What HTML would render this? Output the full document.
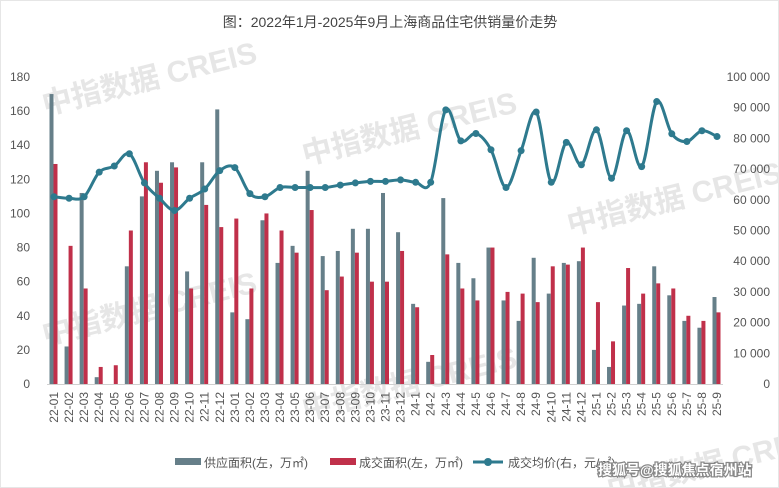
<!DOCTYPE html>
<html><head><meta charset="utf-8">
<style>
html,body{margin:0;padding:0;background:#fff;}
body{width:779px;height:488px;overflow:hidden;font-family:"Liberation Sans","Noto Sans CJK SC",sans-serif;}
</style></head><body>
<svg id="s" width="779" height="488" xmlns="http://www.w3.org/2000/svg" style="position:absolute;left:0;top:0;font-family:'Liberation Sans','Noto Sans CJK SC',sans-serif">
<rect x="0.5" y="0.5" width="778" height="487" fill="#fff" stroke="#e6e6e6"/>
<g fill="#e6e6e6" font-weight="bold" font-size="30">
<text transform="translate(45,115) rotate(-14)">中指数据 CREIS</text>
<text transform="translate(305,165) rotate(-14)">中指数据 CREIS</text>
<text transform="translate(570,235) rotate(-14)">中指数据 CREIS</text>
<text transform="translate(45,345) rotate(-14)">中指数据 CREIS</text>
<text transform="translate(305,420) rotate(-14)">中指数据 CREIS</text>
<text transform="translate(610,500) rotate(-14)">中指数据 CREIS</text>
</g>
<text x="390" y="27" text-anchor="middle" font-size="14" fill="#444">图：2022年1月-2025年9月上海商品住宅供销量价走势</text>
<g id="g"></g>
<g font-size="12" fill="#555">
<rect x="175" y="458" width="26" height="7" fill="#667f89"/>
<text x="204" y="467">供应面积(左，万㎡)</text>
<rect x="330" y="458" width="26" height="7" fill="#c0304a"/>
<text x="359" y="467">成交面积(左，万㎡)</text>
<line x1="473" y1="462" x2="503" y2="462" stroke="#2e7a8e" stroke-width="3"/>
<circle cx="488" cy="462" r="4" fill="#2e7a8e"/>
<text x="508" y="467">成交均价(右，元/㎡)</text>
</g>
<text x="598" y="475" font-size="14" font-weight="bold" fill="#fff" stroke="#888" stroke-width="2.5" paint-order="stroke">搜狐号@搜狐焦点宿州站</text>
</svg>
<script>
(function(){
var L=["22-01","22-02","22-03","22-04","22-05","22-06","22-07","22-08","22-09","22-10","22-11","22-12","23-01","23-02","23-03","23-04","23-05","23-06","23-07","23-08","23-09","23-10","23-11","23-12","24-1","24-2","24-3","24-4","24-5","24-6","24-7","24-8","24-9","24-10","24-11","24-12","25-1","25-2","25-3","25-4","25-5","25-6","25-7","25-8","25-9"];
var S=[170,22,112,4,0,69,110,125,130,66,130,161,42,38,96,71,81,125,75,78,91,91,112,89,47,13,109,71,62,80,49,37,74,53,71,72,20,10,46,47,69,52,37,33,51];
var D=[129,81,56,10,11,90,130,118,127,56,105,92,97,56,100,90,77,102,55,63,77,60,60,78,45,17,76,56,49,80,54,53,48,69,70,80,48,25,68,53,59,56,40,37,42];
var P=[61000,60500,61000,69000,71000,75000,65500,60500,56500,60500,63500,69500,70500,62000,61000,64000,64000,64000,64000,64800,65500,66000,66000,66500,65700,65700,89300,79200,81600,76300,64000,76000,88600,65700,78700,71400,82800,67000,82500,70800,92000,81500,79000,82500,80600];
var x0=54,dx=(717-54)/44,base=384,yTop=77,h=base-yTop;
var o='';
function yl(v){return base-v/180*h;}function yr(v){return base-v/100000*h;}
for(var v=0;v<=180;v+=20)o+='<text x="30" y="'+(yl(v)+4)+'" text-anchor="end" font-size="12" fill="#555">'+v+'</text>';
for(var v=0;v<=100000;v+=10000)o+='<text x="770" y="'+(yr(v)+4)+'" text-anchor="end" font-size="12" fill="#555">'+(v?String(v).replace(/(\d{3})$/,' $1'):'0')+'</text>';
o+='<line x1="47" y1="384.5" x2="723" y2="384.5" stroke="#d0d0d0"/>';
var pts=[];
for(var i=0;i<45;i++){var c=x0+i*dx;
o+='<rect x="'+(c-4.5)+'" y="'+yl(S[i])+'" width="4" height="'+(S[i]/180*h)+'" fill="#667f89"/>';
o+='<rect x="'+(c-0.5)+'" y="'+yl(D[i])+'" width="4" height="'+(D[i]/180*h)+'" fill="#c0304a"/>';
o+='<text transform="translate('+(c+4)+',392) rotate(-90)" text-anchor="end" font-size="12" fill="#555">'+L[i]+'</text>';
pts.push([c,yr(P[i])]);}
var d='M'+pts[0][0]+','+pts[0][1];
for(var i=0;i<44;i++){var p0=pts[Math.max(0,i-1)],p1=pts[i],p2=pts[i+1],p3=pts[Math.min(44,i+2)];
d+=' C'+(p1[0]+(p2[0]-p0[0])/6)+','+(p1[1]+(p2[1]-p0[1])/6)+' '+(p2[0]-(p3[0]-p1[0])/6)+','+(p2[1]-(p3[1]-p1[1])/6)+' '+p2[0]+','+p2[1];}
o+='<path d="'+d+'" fill="none" stroke="#2e7a8e" stroke-width="3"/>';
pts.forEach(function(p){o+='<circle cx="'+p[0]+'" cy="'+p[1]+'" r="3.5" fill="#2e7a8e"/>';});
document.getElementById('g').innerHTML=o;
})();
</script>
</body></html>
